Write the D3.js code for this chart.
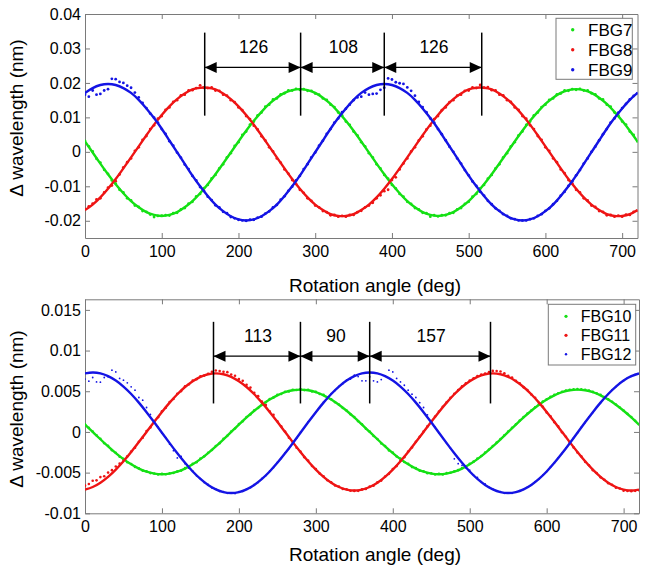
<!DOCTYPE html>
<html>
<head>
<meta charset="utf-8">
<script src="https://cdn.jsdelivr.net/npm/d3@7"></script>
<style>
  body { margin: 0; background: #fff; }
  svg { display: block; font-family: "Liberation Sans", Arial, sans-serif; }
</style>
</head>
<body>
<div id="chart"></div>
<script>
// Angles (deg) at which the measured points and the fitted curves are given
const dotAngles = d3.range(0, 721, 5);
const fitAngles = d3.range(0, 721, 10);

const xTicks = [0, 100, 200, 300, 400, 500, 600, 700];
const topYTicks = [-0.02, -0.01, 0, 0.01, 0.02, 0.03, 0.04];
const topYLabels = ["-0.02", "-0.01", "0", "0.01", "0.02", "0.03", "0.04"];
const bottomYTicks = [-0.01, -0.005, 0, 0.005, 0.01, 0.015];
const bottomYLabels = ["-0.01", "-0.005", "0", "0.005", "0.01", "0.015"];

const topNames = ["FBG7", "FBG8", "FBG9"];
const bottomNames = ["FBG10", "FBG11", "FBG12"];

// Peak positions marked with dimension arrows, and the gaps written above them
const topMarks = [156, 281, 390, 517];
const topGaps = ["126", "108", "126"];
const bottomMarks = [167, 280, 370, 527];
const bottomGaps = ["113", "90", "157"];

// ---- top panel, measured points (nm) ----
const fbg7Dots = [
  0.0032, 0.0016, 0.0001, -0.0020, -0.0031, -0.0052, -0.0064, -0.0083, -0.0092, -0.0110,
  -0.0118, -0.0135, -0.0141, -0.0156, -0.0160, -0.0172, -0.0174, -0.0182, -0.0189, -0.0186,
  -0.0185, -0.0184, -0.0185, -0.0178, -0.0177, -0.0167, -0.0163, -0.0150, -0.0145, -0.0129,
  -0.0122, -0.0105, -0.0096, -0.0077, -0.0067, -0.0048, -0.0036, -0.0016, -0.0004, 0.0017,
  0.0028, 0.0049, 0.0059, 0.0079, 0.0088, 0.0106, 0.0114, 0.0131, 0.0137, 0.0152,
  0.0155, 0.0167, 0.0170, 0.0178, 0.0178, 0.0183, 0.0180, 0.0182, 0.0177, 0.0177,
  0.0169, 0.0166, 0.0155, 0.0151, 0.0137, 0.0130, 0.0114, 0.0106, 0.0088, 0.0078,
  0.0059, 0.0048, 0.0028, 0.0016, -0.0004, -0.0016, -0.0036, -0.0048, -0.0067, -0.0078,
  -0.0096, -0.0106, -0.0122, -0.0130, -0.0145, -0.0151, -0.0163, -0.0167, -0.0177, -0.0178,
  -0.0188, -0.0184, -0.0187, -0.0184, -0.0184, -0.0178, -0.0177, -0.0167, -0.0163, -0.0151,
  -0.0145, -0.0130, -0.0122, -0.0106, -0.0096, -0.0078, -0.0067, -0.0048, -0.0036, -0.0016,
  -0.0004, 0.0016, 0.0028, 0.0048, 0.0059, 0.0078, 0.0088, 0.0106, 0.0114, 0.0130,
  0.0137, 0.0151, 0.0155, 0.0167, 0.0169, 0.0178, 0.0177, 0.0182, 0.0180, 0.0183,
  0.0178, 0.0178, 0.0170, 0.0167, 0.0155, 0.0152, 0.0137, 0.0131, 0.0114, 0.0106,
  0.0088, 0.0079, 0.0059, 0.0049, 0.0030
];
const fbg8Dots = [
  -0.0166, -0.0158, -0.0150, -0.0138, -0.0135, -0.0118, -0.0104, -0.0098, -0.0085, -0.0066,
  -0.0045, -0.0030, -0.0019, 0.0003, 0.0013, 0.0035, 0.0046, 0.0066, 0.0077, 0.0096,
  0.0104, 0.0122, 0.0129, 0.0145, 0.0150, 0.0164, 0.0166, 0.0178, 0.0179, 0.0185,
  0.0193, 0.0186, 0.0185, 0.0187, 0.0178, 0.0177, 0.0166, 0.0163, 0.0150, 0.0144,
  0.0129, 0.0121, 0.0104, 0.0095, 0.0076, 0.0065, 0.0045, 0.0033, 0.0013, 0.0001,
  -0.0019, -0.0031, -0.0051, -0.0063, -0.0082, -0.0093, -0.0110, -0.0119, -0.0135, -0.0142,
  -0.0156, -0.0161, -0.0172, -0.0175, -0.0184, -0.0183, -0.0188, -0.0186, -0.0188, -0.0183,
  -0.0183, -0.0175, -0.0171, -0.0161, -0.0156, -0.0148, -0.0135, -0.0126, -0.0114, -0.0110,
  -0.0082, -0.0074, -0.0051, -0.0034, -0.0019, 0.0001, 0.0013, 0.0033, 0.0045, 0.0065,
  0.0076, 0.0095, 0.0104, 0.0121, 0.0129, 0.0144, 0.0150, 0.0163, 0.0166, 0.0177,
  0.0178, 0.0187, 0.0185, 0.0194, 0.0186, 0.0188, 0.0179, 0.0178, 0.0166, 0.0164,
  0.0150, 0.0145, 0.0129, 0.0122, 0.0104, 0.0096, 0.0077, 0.0066, 0.0046, 0.0035,
  0.0013, 0.0003, -0.0019, -0.0030, -0.0051, -0.0062, -0.0082, -0.0092, -0.0110, -0.0118,
  -0.0135, -0.0141, -0.0156, -0.0160, -0.0172, -0.0174, -0.0184, -0.0183, -0.0188, -0.0185,
  -0.0188, -0.0182, -0.0183, -0.0174, -0.0171
];
const fbg9Dots = [
  0.0166, 0.0160, 0.0178, 0.0166, 0.0168, 0.0178, 0.0182, 0.0212, 0.0211, 0.0203,
  0.0200, 0.0192, 0.0186, 0.0172, 0.0158, 0.0142, 0.0127, 0.0111, 0.0099, 0.0085,
  0.0066, 0.0052, 0.0031, 0.0018, -0.0002, -0.0017, -0.0037, -0.0050, -0.0070, -0.0083,
  -0.0102, -0.0113, -0.0130, -0.0140, -0.0155, -0.0161, -0.0174, -0.0178, -0.0189, -0.0193,
  -0.0197, -0.0199, -0.0200, -0.0197, -0.0197, -0.0191, -0.0188, -0.0179, -0.0173, -0.0161,
  -0.0154, -0.0139, -0.0129, -0.0113, -0.0101, -0.0083, -0.0070, -0.0050, -0.0036, -0.0016,
  -0.0002, 0.0018, 0.0032, 0.0052, 0.0066, 0.0085, 0.0097, 0.0115, 0.0125, 0.0137,
  0.0150, 0.0158, 0.0160, 0.0172, 0.0166, 0.0168, 0.0169, 0.0180, 0.0186, 0.0213,
  0.0210, 0.0202, 0.0199, 0.0197, 0.0187, 0.0177, 0.0163, 0.0145, 0.0130, 0.0115,
  0.0097, 0.0085, 0.0066, 0.0051, 0.0034, 0.0015, 0.0000, -0.0019, -0.0034, -0.0053,
  -0.0068, -0.0086, -0.0099, -0.0116, -0.0127, -0.0142, -0.0152, -0.0164, -0.0171, -0.0181,
  -0.0186, -0.0193, -0.0195, -0.0199, -0.0199, -0.0199, -0.0195, -0.0193, -0.0186, -0.0181,
  -0.0171, -0.0164, -0.0152, -0.0142, -0.0127, -0.0116, -0.0099, -0.0086, -0.0068, -0.0053,
  -0.0034, -0.0019, 0.0000, 0.0015, 0.0034, 0.0051, 0.0066, 0.0085, 0.0097, 0.0114,
  0.0127, 0.0139, 0.0152, 0.0162, 0.0170
];

// ---- top panel, fitted curves (nm), every 10 deg ----
const fbg7Fit = [
  0.0030, -0.0002, -0.0034, -0.0065, -0.0094, -0.0120, -0.0143, -0.0161, -0.0175, -0.0183,
  -0.0186, -0.0183, -0.0175, -0.0161, -0.0143, -0.0120, -0.0094, -0.0065, -0.0034, -0.0002,
  0.0030, 0.0061, 0.0090, 0.0116, 0.0139, 0.0157, 0.0171, 0.0179, 0.0182, 0.0179,
  0.0171, 0.0157, 0.0139, 0.0116, 0.0090, 0.0061, 0.0030, -0.0002, -0.0034, -0.0065,
  -0.0094, -0.0120, -0.0143, -0.0161, -0.0175, -0.0183, -0.0186, -0.0183, -0.0175, -0.0161,
  -0.0143, -0.0120, -0.0094, -0.0065, -0.0034, -0.0002, 0.0030, 0.0061, 0.0090, 0.0116,
  0.0139, 0.0157, 0.0171, 0.0179, 0.0182, 0.0179, 0.0171, 0.0157, 0.0139, 0.0116,
  0.0090, 0.0061, 0.0030
];
const fbg8Fit = [
  -0.0169, -0.0153, -0.0132, -0.0107, -0.0079, -0.0048, -0.0016, 0.0016, 0.0048, 0.0079,
  0.0107, 0.0132, 0.0153, 0.0169, 0.0181, 0.0186, 0.0186, 0.0181, 0.0169, 0.0153,
  0.0132, 0.0107, 0.0079, 0.0048, 0.0016, -0.0016, -0.0048, -0.0079, -0.0107, -0.0132,
  -0.0153, -0.0169, -0.0181, -0.0186, -0.0186, -0.0181, -0.0169, -0.0153, -0.0132, -0.0107,
  -0.0079, -0.0048, -0.0016, 0.0016, 0.0048, 0.0079, 0.0107, 0.0132, 0.0153, 0.0169,
  0.0181, 0.0186, 0.0186, 0.0181, 0.0169, 0.0153, 0.0132, 0.0107, 0.0079, 0.0048,
  0.0016, -0.0016, -0.0048, -0.0079, -0.0107, -0.0132, -0.0153, -0.0169, -0.0181, -0.0186,
  -0.0186, -0.0181, -0.0169
];
const fbg9Fit = [
  0.0171, 0.0185, 0.0194, 0.0197, 0.0194, 0.0185, 0.0171, 0.0151, 0.0126, 0.0098,
  0.0067, 0.0033, -0.0001, -0.0035, -0.0069, -0.0100, -0.0128, -0.0153, -0.0172, -0.0187,
  -0.0196, -0.0199, -0.0196, -0.0187, -0.0172, -0.0153, -0.0128, -0.0100, -0.0069, -0.0035,
  -0.0001, 0.0033, 0.0067, 0.0098, 0.0126, 0.0151, 0.0171, 0.0185, 0.0194, 0.0197,
  0.0194, 0.0185, 0.0171, 0.0151, 0.0126, 0.0098, 0.0067, 0.0033, -0.0001, -0.0035,
  -0.0069, -0.0100, -0.0128, -0.0153, -0.0172, -0.0187, -0.0196, -0.0199, -0.0196, -0.0187,
  -0.0172, -0.0153, -0.0128, -0.0100, -0.0069, -0.0035, -0.0001, 0.0033, 0.0067, 0.0098,
  0.0126, 0.0151, 0.0171
];

// ---- bottom panel, measured points (nm) ----
const fbg10Dots = [
  0.00095, 0.00052, 0.00005, -0.00040, -0.00085, -0.00140, -0.00170, -0.00225, -0.00255, -0.00305,
  -0.00330, -0.00372, -0.00395, -0.00430, -0.00446, -0.00476, -0.00485, -0.00506, -0.00510, -0.00522,
  -0.00516, -0.00520, -0.00508, -0.00505, -0.00485, -0.00475, -0.00445, -0.00430, -0.00392, -0.00372,
  -0.00328, -0.00300, -0.00255, -0.00222, -0.00172, -0.00138, -0.00085, -0.00048, 0.00006, 0.00042,
  0.00096, 0.00130, 0.00184, 0.00215, 0.00266, 0.00295, 0.00340, 0.00364, 0.00404, 0.00422,
  0.00456, 0.00467, 0.00494, 0.00498, 0.00517, 0.00515, 0.00526, 0.00514, 0.00518, 0.00497,
  0.00492, 0.00466, 0.00455, 0.00421, 0.00402, 0.00364, 0.00338, 0.00294, 0.00264, 0.00216,
  0.00182, 0.00131, 0.00094, 0.00040, 0.00004, -0.00050, -0.00086, -0.00142, -0.00172, -0.00228,
  -0.00254, -0.00302, -0.00328, -0.00370, -0.00392, -0.00432, -0.00444, -0.00477, -0.00484, -0.00508,
  -0.00508, -0.00524, -0.00515, -0.00522, -0.00506, -0.00502, -0.00484, -0.00470, -0.00444, -0.00424,
  -0.00392, -0.00365, -0.00328, -0.00296, -0.00254, -0.00216, -0.00172, -0.00130, -0.00086, -0.00040,
  0.00006, 0.00050, 0.00094, 0.00140, 0.00182, 0.00225, 0.00264, 0.00304, 0.00338, 0.00372,
  0.00402, 0.00432, 0.00455, 0.00476, 0.00494, 0.00508, 0.00517, 0.00524, 0.00526, 0.00524,
  0.00518, 0.00508, 0.00492, 0.00474, 0.00455, 0.00428, 0.00402, 0.00370, 0.00338, 0.00300,
  0.00264, 0.00222, 0.00182, 0.00138, 0.00092
];
const fbg11Dots = [
  -0.00660, -0.00640, -0.00600, -0.00595, -0.00555, -0.00545, -0.00500, -0.00470, -0.00425, -0.00390,
  -0.00345, -0.00300, -0.00240, -0.00195, -0.00120, -0.00070, 0.00010, 0.00055, 0.00135, 0.00180,
  0.00255, 0.00296, 0.00368, 0.00405, 0.00470, 0.00502, 0.00560, 0.00585, 0.00630, 0.00648,
  0.00684, 0.00692, 0.00715, 0.00740, 0.00755, 0.00748, 0.00740, 0.00735, 0.00705, 0.00690,
  0.00650, 0.00628, 0.00580, 0.00545, 0.00480, 0.00440, 0.00372, 0.00330, 0.00254, 0.00210,
  0.00130, 0.00070, 0.00005, -0.00070, -0.00120, -0.00195, -0.00240, -0.00310, -0.00352, -0.00418,
  -0.00456, -0.00512, -0.00545, -0.00594, -0.00618, -0.00658, -0.00672, -0.00700, -0.00705, -0.00722,
  -0.00725, -0.00724, -0.00706, -0.00700, -0.00672, -0.00660, -0.00620, -0.00598, -0.00548, -0.00515,
  -0.00455, -0.00420, -0.00355, -0.00310, -0.00240, -0.00190, -0.00122, -0.00060, 0.00006, 0.00068,
  0.00128, 0.00190, 0.00250, 0.00310, 0.00365, 0.00420, 0.00470, 0.00515, 0.00560, 0.00598,
  0.00632, 0.00660, 0.00688, 0.00705, 0.00718, 0.00735, 0.00750, 0.00748, 0.00742, 0.00720,
  0.00690, 0.00668, 0.00628, 0.00598, 0.00548, 0.00515, 0.00460, 0.00420, 0.00355, 0.00310,
  0.00240, 0.00192, 0.00120, 0.00068, -0.00005, -0.00060, -0.00130, -0.00190, -0.00252, -0.00300,
  -0.00368, -0.00410, -0.00470, -0.00505, -0.00558, -0.00588, -0.00630, -0.00650, -0.00685, -0.00695,
  -0.00722, -0.00725, -0.00728, -0.00724, -0.00716
];
const fbg12Dots = [
  0.00650, 0.00624, 0.00669, 0.00615, 0.00611, 0.00669, 0.00677, 0.00759, 0.00738, 0.00657,
  0.00636, 0.00603, 0.00554, 0.00513, 0.00423, 0.00390, 0.00300, 0.00215, 0.00125, 0.00060,
  -0.00015, -0.00070, -0.00150, -0.00230, -0.00320, -0.00300, -0.00390, -0.00445, -0.00480, -0.00540,
  -0.00575, -0.00622, -0.00645, -0.00688, -0.00700, -0.00730, -0.00735, -0.00755, -0.00752, -0.00758,
  -0.00735, -0.00730, -0.00700, -0.00685, -0.00645, -0.00620, -0.00572, -0.00536, -0.00480, -0.00438,
  -0.00375, -0.00326, -0.00258, -0.00205, -0.00134, -0.00078, -0.00006, 0.00052, 0.00122, 0.00180,
  0.00247, 0.00300, 0.00365, 0.00410, 0.00470, 0.00510, 0.00560, 0.00592, 0.00635, 0.00650,
  0.00697, 0.00680, 0.00628, 0.00628, 0.00677, 0.00628, 0.00615, 0.00644, 0.00689, 0.00759,
  0.00738, 0.00657, 0.00615, 0.00574, 0.00513, 0.00464, 0.00423, 0.00360, 0.00300, 0.00210,
  0.00125, 0.00060, -0.00012, -0.00078, -0.00140, -0.00200, -0.00330, -0.00390, -0.00410, -0.00440,
  -0.00470, -0.00530, -0.00560, -0.00612, -0.00640, -0.00680, -0.00700, -0.00725, -0.00735, -0.00755,
  -0.00752, -0.00755, -0.00740, -0.00722, -0.00705, -0.00678, -0.00652, -0.00612, -0.00578, -0.00530,
  -0.00487, -0.00430, -0.00382, -0.00320, -0.00264, -0.00200, -0.00138, -0.00072, -0.00012, 0.00058,
  0.00116, 0.00185, 0.00240, 0.00306, 0.00358, 0.00418, 0.00462, 0.00516, 0.00555, 0.00600,
  0.00628, 0.00665, 0.00683, 0.00708, 0.00716
];

// ---- bottom panel, fitted curves (nm), every 10 deg ----
const fbg10Fit = [
  0.00090, 0.00000, -0.00090, -0.00178, -0.00260, -0.00334, -0.00398, -0.00450, -0.00489, -0.00512,
  -0.00520, -0.00512, -0.00489, -0.00450, -0.00398, -0.00334, -0.00260, -0.00178, -0.00090, 0.00000,
  0.00090, 0.00178, 0.00260, 0.00334, 0.00398, 0.00450, 0.00489, 0.00512, 0.00520, 0.00512,
  0.00489, 0.00450, 0.00398, 0.00334, 0.00260, 0.00178, 0.00090, 0.00000, -0.00090, -0.00178,
  -0.00260, -0.00334, -0.00398, -0.00450, -0.00489, -0.00512, -0.00520, -0.00512, -0.00489, -0.00450,
  -0.00398, -0.00334, -0.00260, -0.00178, -0.00090, 0.00000, 0.00090, 0.00178, 0.00260, 0.00334,
  0.00398, 0.00450, 0.00489, 0.00512, 0.00520, 0.00512, 0.00489, 0.00450, 0.00398, 0.00334,
  0.00260, 0.00178, 0.00090
];
const fbg11Fit = [
  -0.00709, -0.00677, -0.00624, -0.00552, -0.00463, -0.00360, -0.00246, -0.00125, 0.00000, 0.00125,
  0.00246, 0.00360, 0.00463, 0.00552, 0.00624, 0.00677, 0.00709, 0.00720, 0.00709, 0.00677,
  0.00624, 0.00552, 0.00463, 0.00360, 0.00246, 0.00125, 0.00000, -0.00125, -0.00246, -0.00360,
  -0.00463, -0.00552, -0.00624, -0.00677, -0.00709, -0.00720, -0.00709, -0.00677, -0.00624, -0.00552,
  -0.00463, -0.00360, -0.00246, -0.00125, 0.00000, 0.00125, 0.00246, 0.00360, 0.00463, 0.00552,
  0.00624, 0.00677, 0.00709, 0.00720, 0.00709, 0.00677, 0.00624, 0.00552, 0.00463, 0.00360,
  0.00246, 0.00125, 0.00000, -0.00125, -0.00246, -0.00360, -0.00463, -0.00552, -0.00624, -0.00677,
  -0.00709, -0.00720, -0.00709
];
const fbg12Fit = [
  0.00719, 0.00730, 0.00719, 0.00685, 0.00631, 0.00557, 0.00466, 0.00360, 0.00243, 0.00118,
  -0.00010, -0.00138, -0.00263, -0.00380, -0.00486, -0.00577, -0.00651, -0.00705, -0.00739, -0.00750,
  -0.00739, -0.00705, -0.00651, -0.00577, -0.00486, -0.00380, -0.00263, -0.00138, -0.00010, 0.00118,
  0.00243, 0.00360, 0.00466, 0.00557, 0.00631, 0.00685, 0.00719, 0.00730, 0.00719, 0.00685,
  0.00631, 0.00557, 0.00466, 0.00360, 0.00243, 0.00118, -0.00010, -0.00138, -0.00263, -0.00380,
  -0.00486, -0.00577, -0.00651, -0.00705, -0.00739, -0.00750, -0.00739, -0.00705, -0.00651, -0.00577,
  -0.00486, -0.00380, -0.00263, -0.00138, -0.00010, 0.00118, 0.00243, 0.00360, 0.00466, 0.00557,
  0.00631, 0.00685, 0.00719
];

// MATLAB-like line colours (green, red, blue)
const colors = ["#14e014", "#ee1414", "#1414e4"];
const axisGray = "#7a7a7a";

const svg = d3.select("#chart")
  .append("svg")
  .attr("width", 649)
  .attr("height", 573);

svg.append("rect").attr("width", 649).attr("height", 573).attr("fill", "#fff");

function drawPanel(p) {
  const x = d3.scaleLinear().domain([0, 720]).range([p.left, p.right]);
  const y = d3.scaleLinear().domain(p.yDomain).range([p.bottom, p.top]);

  const g = svg.append("g");

  // axes: ticks point inwards, box on all four sides
  const styleAxis = sel => {
    sel.selectAll("path.domain").attr("stroke", axisGray);
    sel.selectAll(".tick line").attr("stroke", axisGray);
    sel.selectAll(".tick text")
      .attr("fill", "#000")
      .style("font-size", "16px")
      .style("font-family", "'Liberation Sans', Arial, sans-serif");
  };

  g.append("g")
    .attr("transform", `translate(0,${p.bottom})`)
    .call(d3.axisBottom(x).tickValues(xTicks).tickFormat(d3.format("d"))
      .tickSizeInner(-5).tickSizeOuter(0).tickPadding(7.3))
    .call(styleAxis);

  g.append("g")
    .attr("transform", `translate(0,${p.top})`)
    .call(d3.axisTop(x).tickValues(xTicks).tickFormat("")
      .tickSizeInner(-5).tickSizeOuter(0))
    .call(styleAxis);

  g.append("g")
    .attr("transform", `translate(${p.left},0)`)
    .call(d3.axisLeft(y).tickValues(p.yTicks).tickFormat((d, i) => p.yLabels[i])
      .tickSizeInner(-5).tickSizeOuter(0).tickPadding(4))
    .call(styleAxis);

  g.append("g")
    .attr("transform", `translate(${p.right},0)`)
    .call(d3.axisRight(y).tickValues(p.yTicks).tickFormat("")
      .tickSizeInner(-5).tickSizeOuter(0))
    .call(styleAxis);

  // clip the data to the axes box
  const clipId = "clip-" + p.id;
  g.append("clipPath").attr("id", clipId)
    .append("rect")
    .attr("x", p.left).attr("y", p.top)
    .attr("width", p.right - p.left).attr("height", p.bottom - p.top);

  const plot = g.append("g").attr("clip-path", `url(#${clipId})`);

  // measured points
  p.series.forEach(s => {
    plot.append("g")
      .selectAll("circle")
      .data(s.dots)
      .join("circle")
      .attr("cx", (d, i) => x(dotAngles[i]))
      .attr("cy", d => y(d))
      .attr("r", s.r)
      .attr("fill", s.color);
  });

  // fitted curves
  const line = d3.line()
    .x((d, i) => x(fitAngles[i]))
    .y(d => y(d))
    .curve(d3.curveNatural);

  p.series.forEach(s => {
    plot.append("path")
      .datum(s.fit)
      .attr("d", line)
      .attr("fill", "none")
      .attr("stroke", s.color)
      .attr("stroke-width", 2.4);
  });

  // dimension lines between peaks
  const ann = g.append("g");
  p.marks.forEach(m => {
    ann.append("line")
      .attr("x1", x(m)).attr("x2", x(m))
      .attr("y1", y(p.markSpan[0])).attr("y2", y(p.markSpan[1]))
      .attr("stroke", "#000").attr("stroke-width", 1.5);
  });
  const ay = y(p.arrowY);
  p.gaps.forEach((label, i) => {
    const x1 = x(p.marks[i]);
    const x2 = x(p.marks[i + 1]);
    ann.append("line")
      .attr("x1", x1).attr("x2", x2)
      .attr("y1", ay).attr("y2", ay)
      .attr("stroke", "#000").attr("stroke-width", 1.2);
    ann.append("path")
      .attr("d", `M${x1},${ay}L${x1 + 12},${ay - 5.5}L${x1 + 12},${ay + 5.5}Z`)
      .attr("fill", "#000");
    ann.append("path")
      .attr("d", `M${x2},${ay}L${x2 - 12},${ay - 5.5}L${x2 - 12},${ay + 5.5}Z`)
      .attr("fill", "#000");
    ann.append("text")
      .attr("x", (x1 + x2) / 2 + 1)
      .attr("y", y(p.gapLabelY))
      .attr("text-anchor", "middle")
      .style("font-size", "17.5px")
      .text(label);
  });

  // axis titles
  g.append("text")
    .attr("x", 375)
    .attr("y", p.xTitleY)
    .attr("text-anchor", "middle")
    .style("font-size", "19px")
    .text("Rotation angle (deg)");

  g.append("text")
    .attr("transform", `translate(23,${p.yTitleY}) rotate(-90)`)
    .attr("text-anchor", "middle")
    .style("font-size", "19px")
    .text("\u0394 wavelength (nm)");

  // legend
  const L = p.legend;
  const lg = g.append("g");
  lg.append("rect")
    .attr("x", L.x).attr("y", L.y)
    .attr("width", L.w).attr("height", L.h)
    .attr("fill", "#fff")
    .attr("stroke", axisGray);
  p.series.forEach((s, i) => {
    const by = L.firstBaseline + i * L.rowH;
    lg.append("circle")
      .attr("cx", L.markerX).attr("cy", by - 6)
      .attr("r", s.r + 0.3)
      .attr("fill", s.color);
    lg.append("text")
      .attr("x", L.textX).attr("y", by)
      .style("font-size", L.fontSize + "px")
      .text(s.name);
  });
}

drawPanel({
  id: "top",
  left: 85, right: 637.5, top: 14, bottom: 238,
  yDomain: [-0.025, 0.04],
  yTicks: topYTicks, yLabels: topYLabels,
  series: [
    { name: topNames[0], dots: fbg7Dots, fit: fbg7Fit, color: colors[0], r: 1.4 },
    { name: topNames[1], dots: fbg8Dots, fit: fbg8Fit, color: colors[1], r: 1.4 },
    { name: topNames[2], dots: fbg9Dots, fit: fbg9Fit, color: colors[2], r: 1.4 }
  ],
  marks: topMarks, gaps: topGaps,
  markSpan: [0.0346, 0.0105], arrowY: 0.0245, gapLabelY: 0.0287,
  xTitleY: 291.5, yTitleY: 118,
  legend: { x: 556, y: 18.3, w: 76.3, h: 61, markerX: 572.7, textX: 588,
            firstBaseline: 35.7, rowH: 20, fontSize: 17 }
});

drawPanel({
  id: "bottom",
  left: 85, right: 639, top: 299.3, bottom: 513.3,
  yDomain: [-0.01, 0.0163],
  yTicks: bottomYTicks, yLabels: bottomYLabels,
  series: [
    { name: bottomNames[0], dots: fbg10Dots, fit: fbg10Fit, color: colors[0], r: 1.3 },
    { name: bottomNames[1], dots: fbg11Dots, fit: fbg11Fit, color: colors[1], r: 1.3 },
    { name: bottomNames[2], dots: fbg12Dots, fit: fbg12Fit, color: colors[2], r: 0.9 }
  ],
  marks: bottomMarks, gaps: bottomGaps,
  markSpan: [0.01353, 0.0035], arrowY: 0.00931, gapLabelY: 0.0110,
  xTitleY: 561, yTitleY: 409,
  legend: { x: 548.3, y: 304.3, w: 87.4, h: 60.7, markerX: 566, textX: 580.7,
            firstBaseline: 322.3, rowH: 19, fontSize: 16 }
});
</script>
</body>
</html>
